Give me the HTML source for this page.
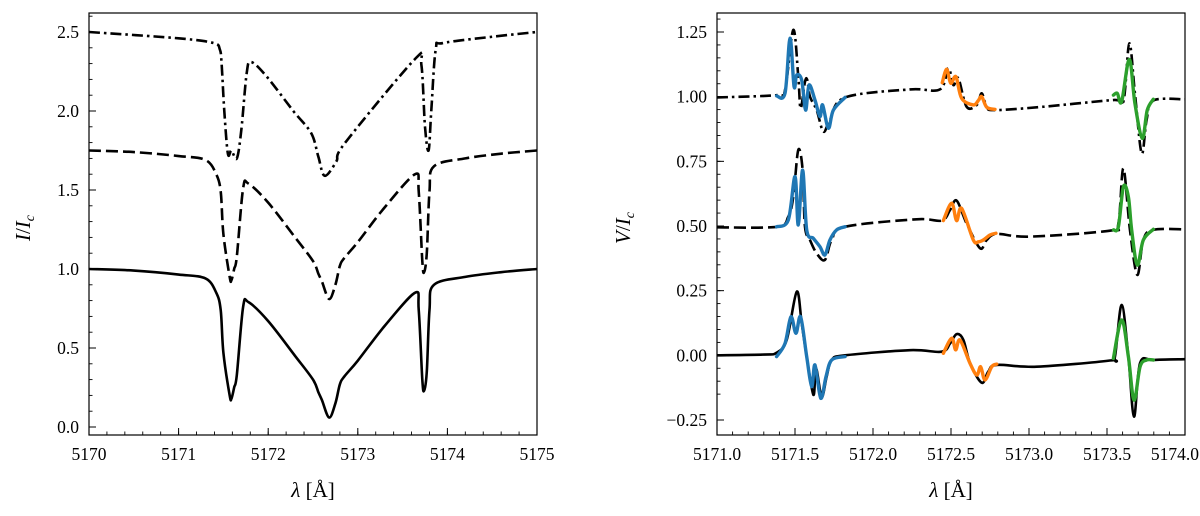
<!DOCTYPE html>
<html><head><meta charset="utf-8">
<style>
html,body{margin:0;padding:0;background:#fff;}
svg{display:block;}
text{font-family:"Liberation Serif",serif;fill:#000;}
</style></head>
<body>
<svg id="chart" width="1200" height="516" viewBox="0 0 1200 516" xmlns="http://www.w3.org/2000/svg"></svg>
<script>
// ---------- Left panel data (Stokes I) ----------
const leftLamSolid = [5170,5170.5,5171.0,5171.3,5171.42,5171.47,5171.5,5171.57,5171.59,5171.62,5171.65,5171.72,5171.78,5172.0,5172.3,5172.5,5172.56,5172.6,5172.68,5172.75,5172.8,5172.85,5173.0,5173.3,5173.64,5173.68,5173.72,5173.74,5173.77,5173.8,5173.85,5174.2,5174.6,5175];
const leftISolid = [1.0,0.99,0.965,0.94,0.85,0.74,0.47,0.2,0.18,0.25,0.33,0.76,0.79,0.67,0.45,0.3,0.22,0.17,0.06,0.15,0.27,0.32,0.42,0.64,0.85,0.74,0.3,0.23,0.35,0.74,0.9,0.95,0.98,1.0];
const dashedOffset = 0.75;
const leftLamDashDot = [5170,5171.0,5171.39,5171.46,5171.48,5171.51,5171.55,5171.59,5171.65,5171.70,5171.76,5171.81,5171.98,5172.28,5172.48,5172.56,5172.63,5172.76,5172.86,5173.64,5173.71,5173.75,5173.79,5173.82,5173.87,5173.95,5174.5,5175];
const leftIDashDot = [2.5,2.46,2.43,2.39,2.30,2.0,1.73,1.75,1.70,1.88,2.24,2.31,2.22,2.0,1.86,1.71,1.59,1.68,1.80,2.33,2.29,1.90,1.75,2.0,2.39,2.43,2.47,2.50];
const leftXTicks = [5170,5171,5172,5173,5174,5175];
const leftYTicks = [0.0,0.5,1.0,1.5,2.0,2.5];

// ---------- Right panel data (Stokes V) ----------
const vLamSolid = [5171.0,5171.3,5171.382,5171.447,5171.511,5171.543,5171.575,5171.618,5171.635,5171.671,5171.703,5171.735,5171.821,5172.237,5172.44,5172.494,5172.536,5172.579,5172.622,5172.697,5172.739,5172.793,5173.049,5173.519,5173.551,5173.594,5173.637,5173.673,5173.712,5173.797,5174.0];
const vSolid = [0,0.003,0.01,0.06,0.246,0.124,-0.005,-0.153,-0.05,-0.16,-0.082,-0.018,0,0.02,0.014,0.046,0.082,0.06,-0.03,-0.106,-0.063,-0.037,-0.044,-0.02,-0.005,0.195,-0.005,-0.237,-0.03,-0.018,-0.015];
const vLamDashed = [5171.0,5171.382,5171.457,5171.489,5171.521,5171.549,5171.564,5171.596,5171.639,5171.692,5171.735,5171.821,5172.28,5172.44,5172.494,5172.536,5172.6,5172.686,5172.729,5172.793,5173.006,5173.519,5173.573,5173.605,5173.647,5173.694,5173.733,5173.797,5174.0];
const vDashed = [0.495,0.497,0.536,0.613,0.794,0.716,0.497,0.446,0.394,0.369,0.446,0.497,0.526,0.521,0.562,0.598,0.51,0.414,0.446,0.469,0.459,0.482,0.51,0.723,0.485,0.311,0.446,0.485,0.487];
const vLamDashDot = [5171.0,5171.382,5171.436,5171.489,5171.521,5171.536,5171.564,5171.579,5171.596,5171.639,5171.682,5171.724,5171.821,5172.237,5172.429,5172.483,5172.515,5172.547,5172.6,5172.665,5172.697,5172.729,5172.782,5173.092,5173.541,5173.605,5173.643,5173.679,5173.722,5173.754,5173.797,5174.0];
const vDashDot = [0.997,1.006,1.026,1.258,1.077,0.955,1.058,1.064,1.0,0.948,0.865,0.91,0.997,1.028,1.028,1.11,1.045,1.071,0.961,0.968,1.013,0.961,0.948,0.961,0.987,0.981,1.206,1.013,0.781,0.91,0.985,0.99];

const blueLamBot = [5171.382,5171.436,5171.474,5171.506,5171.536,5171.575,5171.607,5171.628,5171.665,5171.699,5171.735,5171.821];
const blueVBot = [-0.005,0.046,0.149,0.085,0.149,-0.005,-0.121,-0.037,-0.166,-0.082,-0.018,-0.005];
const orangeLamBot = [5172.451,5172.504,5172.53,5172.558,5172.622,5172.665,5172.69,5172.718,5172.761,5172.793];
const orangeVBot = [0.008,0.066,0.021,0.059,-0.031,-0.076,-0.044,-0.095,-0.044,-0.034];
const greenLamBot = [5173.541,5173.594,5173.637,5173.673,5173.712,5173.754,5173.797];
const greenVBot = [-0.012,0.137,-0.005,-0.173,-0.044,-0.018,-0.018];

const blueLamMid = [5171.382,5171.457,5171.5,5171.521,5171.549,5171.575,5171.618,5171.66,5171.692,5171.724,5171.767,5171.821];
const blueVMid = [0.497,0.523,0.691,0.504,0.716,0.485,0.452,0.42,0.388,0.446,0.485,0.497];
const orangeLamMid = [5172.451,5172.504,5172.536,5172.568,5172.643,5172.675,5172.707,5172.75,5172.788];
const orangeVMid = [0.521,0.588,0.521,0.568,0.446,0.439,0.446,0.465,0.472];
const greenLamMid = [5173.541,5173.573,5173.605,5173.637,5173.658,5173.694,5173.733,5173.797];
const greenVMid = [0.485,0.497,0.652,0.613,0.485,0.349,0.446,0.487];

const blueLamTop = [5171.382,5171.436,5171.468,5171.494,5171.511,5171.543,5171.568,5171.59,5171.628,5171.66,5171.677,5171.714,5171.746,5171.821];
const blueVTop = [1.003,1.013,1.226,1.039,1.084,1.064,0.948,1.045,0.987,0.923,0.968,0.878,0.948,0.997];
const orangeLamTop = [5172.444,5172.472,5172.498,5172.532,5172.568,5172.643,5172.675,5172.697,5172.729,5172.782];
const orangeVTop = [1.054,1.106,1.052,1.077,0.994,0.968,0.985,1.0,0.959,0.951];
const greenLamTop = [5173.541,5173.566,5173.594,5173.643,5173.679,5173.726,5173.758,5173.797];
const greenVTop = [1.006,1.013,0.981,1.144,0.974,0.839,0.948,0.99];

const rightXTicks = [5171.0,5171.5,5172.0,5172.5,5173.0,5173.5,5174.0];
const rightYTicks = [-0.25,0.00,0.25,0.50,0.75,1.00,1.25];

// ---------- rendering ----------
const NS = "http://www.w3.org/2000/svg";
const svg = document.getElementById('chart');
function mk(tag, attrs, parent){const e=document.createElementNS(NS,tag);for(const k in attrs)e.setAttribute(k,attrs[k]);(parent||svg).appendChild(e);return e;}

const L = {x0:89,x1:537,y0:13,y1:435, xmin:5170,xmax:5175, ymin:0, ymax:2.5, yTop:32, yBot:427};
const R = {x0:717,x1:1185,y0:13,y1:435, xmin:5171,xmax:5174, ymin:-0.25, ymax:1.25, yTop:32, yBot:420};
function sx(p,v){return p.x0+(v-p.xmin)/(p.xmax-p.xmin)*(p.x1-p.x0);}
function sy(p,v){return p.yBot-(v-p.ymin)/(p.ymax-p.ymin)*(p.yBot-p.yTop);}

function smoothPath(pts){
  let d='M'+pts[0][0].toFixed(2)+','+pts[0][1].toFixed(2);
  for(let i=0;i<pts.length-1;i++){
    const p0=pts[Math.max(0,i-1)],p1=pts[i],p2=pts[i+1],p3=pts[Math.min(pts.length-1,i+2)];
    const t=0.5/3;
    const c1=[p1[0]+(p2[0]-p0[0])*t,p1[1]+(p2[1]-p0[1])*t];
    const c2=[p2[0]-(p3[0]-p1[0])*t,p2[1]-(p3[1]-p1[1])*t];
    d+='C'+c1[0].toFixed(2)+','+c1[1].toFixed(2)+' '+c2[0].toFixed(2)+','+c2[1].toFixed(2)+' '+p2[0].toFixed(2)+','+p2[1].toFixed(2);
  }
  return d;
}
function series(p, xs, ys, off, attrs, g){
  const pts = xs.map((x,i)=>[sx(p,x), sy(p,ys[i]+off)]);
  return mk('path', Object.assign({d:smoothPath(pts), fill:'none','stroke-linejoin':'round'}, attrs), g);
}

function axes(p, xTicks, yTicks, xMinorStep, yMinorStep, xFmt, yFmt, name){
  const g = mk('g',{});
  
  
  for(let v=Math.ceil((p.xmin)/xMinorStep-1e-6)*xMinorStep; v<=p.xmax+1e-9; v+=xMinorStep){
    const x=sx(p,v); mk('line',{x1:x,x2:x,y1:p.y1,y2:p.y1-3.5,stroke:'#000','stroke-width':0.9},g);
  }
  const yLo=p.ymin-(p.yBot-p.y1)/(p.yBot-p.yTop)*(p.ymax-p.ymin);
  const yHi=p.ymax+(p.yTop-p.y0)/(p.yBot-p.yTop)*(p.ymax-p.ymin);
  for(let v=Math.ceil(yLo/yMinorStep)*yMinorStep; v<=yHi; v+=yMinorStep){
    const y=sy(p,v); mk('line',{x1:p.x0,x2:p.x0+3.5,y1:y,y2:y,stroke:'#000','stroke-width':0.9},g);
  }
  xTicks.forEach(v=>{
    const x=sx(p,v);
    mk('line',{x1:x,x2:x,y1:p.y1,y2:p.y1-7,stroke:'#000','stroke-width':1},g);
    const t=mk('text',{x:x,y:p.y1+25,'text-anchor':'middle','font-size':17.5},g);
    t.textContent=xFmt(v);
    
    
    const bb=t.getBBox();
    if(bb.x+bb.width>1199){t.setAttribute('text-anchor','end');t.setAttribute('x',1199);}
  });
  yTicks.forEach(v=>{
    const y=sy(p,v);
    mk('line',{x1:p.x0,x2:p.x0+7,y1:y,y2:y,stroke:'#000','stroke-width':1},g);
    const t=mk('text',{x:p.x0-10,y:y+6,'text-anchor':'end','font-size':17.5},g);
    t.textContent=yFmt(v);
    
    
  });
  const fr=mk('rect',{x:p.x0,y:p.y0,width:p.x1-p.x0,height:p.y1-p.y0,fill:'none',stroke:'#000','stroke-width':1.2},g);
  
  
  const xt=mk('text',{x:(p.x0+p.x1)/2,y:497,'text-anchor':'middle','font-size':21},g);
  
  
  xt.innerHTML='<tspan font-style="italic">λ</tspan> [Å]';
  return g;
}

axes(L, leftXTicks, leftYTicks, 0.2, 0.1, v=>String(v), v=>v.toFixed(1), 'left-panel');
const ly=mk('text',{transform:'translate(30,228) rotate(-90)','text-anchor':'middle','font-size':21});


ly.innerHTML='<tspan font-style="italic">I</tspan>/<tspan font-style="italic">I</tspan><tspan font-style="italic" font-size="14" dy="4">c</tspan>';

const gl = mk('g',{});


const s1=series(L,leftLamSolid,leftISolid,0,{stroke:'#000','stroke-width':2.6},gl);


const s2=series(L,leftLamSolid,leftISolid,dashedOffset,{stroke:'#000','stroke-width':2.6,'stroke-dasharray':'12 5'},gl);


const s3=series(L,leftLamDashDot,leftIDashDot,0,{stroke:'#000','stroke-width':2.6,'stroke-dasharray':'11 4 2.5 4'},gl);



axes(R, rightXTicks, rightYTicks, 0.1, 0.05, v=>v.toFixed(1), v=>(v<0?'−'+Math.abs(v).toFixed(2):v.toFixed(2)), 'right-panel');
const ry=mk('text',{transform:'translate(630,228) rotate(-90)','text-anchor':'middle','font-size':21});


ry.innerHTML='<tspan font-style="italic">V</tspan>/<tspan font-style="italic">I</tspan><tspan font-style="italic" font-size="14" dy="4">c</tspan>';

const gr = mk('g',{});


const k1=series(R,vLamSolid,vSolid,0,{stroke:'#000','stroke-width':2.6},gr);


const k2=series(R,vLamDashed,vDashed,0,{stroke:'#000','stroke-width':2.6,'stroke-dasharray':'12 5'},gr);


const k3=series(R,vLamDashDot,vDashDot,0,{stroke:'#000','stroke-width':2.6,'stroke-dasharray':'11 4 2.5 4'},gr);



const fits = [
  [blueLamBot,blueVBot,'#1f77b4','blue-fit-bottom'],
  [orangeLamBot,orangeVBot,'#ff7f0e','orange-fit-bottom'],
  [greenLamBot,greenVBot,'#2ca02c','green-fit-bottom'],
  [blueLamMid,blueVMid,'#1f77b4','blue-fit-middle'],
  [orangeLamMid,orangeVMid,'#ff7f0e','orange-fit-middle'],
  [greenLamMid,greenVMid,'#2ca02c','green-fit-middle'],
  [blueLamTop,blueVTop,'#1f77b4','blue-fit-top'],
  [orangeLamTop,orangeVTop,'#ff7f0e','orange-fit-top'],
  [greenLamTop,greenVTop,'#2ca02c','green-fit-top']
];
fits.forEach(f=>{
  const el=series(R,f[0],f[1],0,{stroke:f[2],'stroke-width':3.4,'stroke-linecap':'round'},gr);
  
  
});
</script>
</body></html>
